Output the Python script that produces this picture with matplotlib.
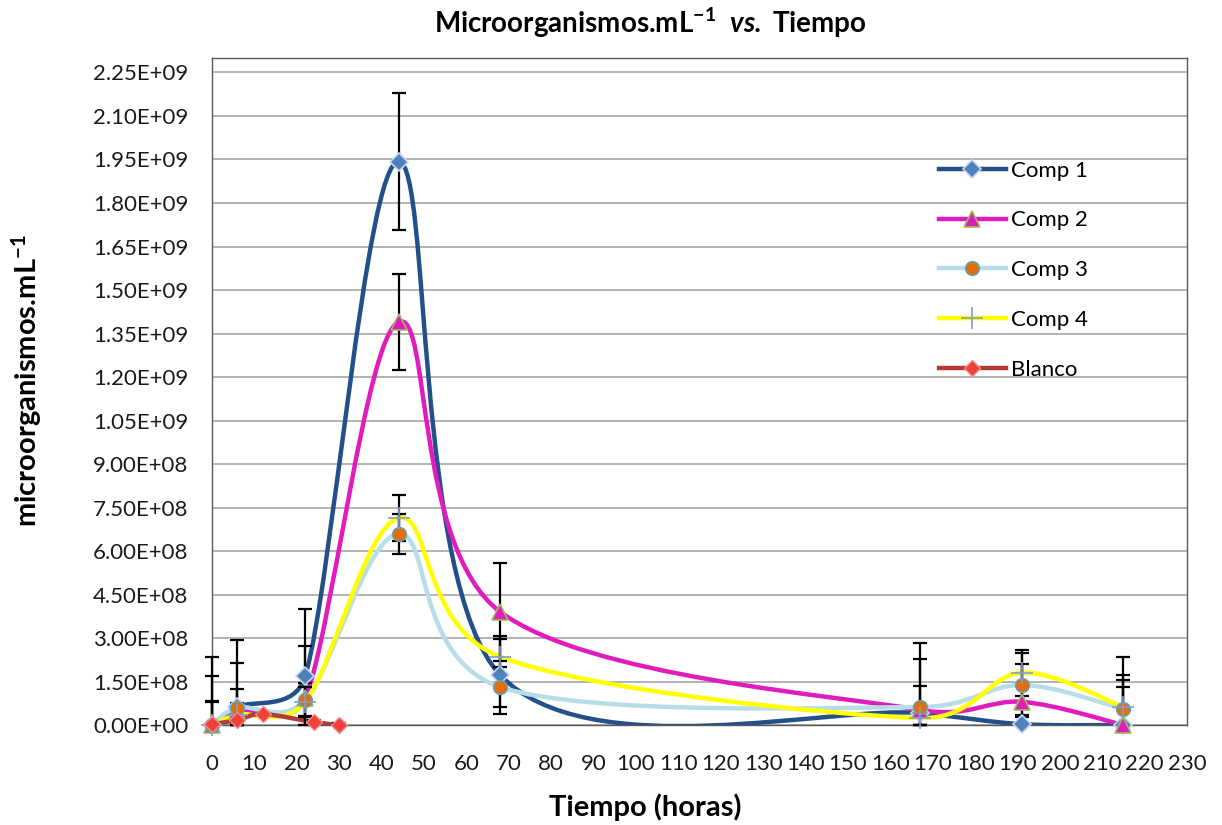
import matplotlib
matplotlib.use('Agg')
import matplotlib.pyplot as plt
import numpy as np
from matplotlib.path import Path
from matplotlib.patches import PathPatch
from matplotlib.lines import Line2D
from matplotlib.ticker import FuncFormatter

plt.rcParams['font.family'] = ['Lato', 'DejaVu Sans']
plt.rcParams['mathtext.fontset'] = 'custom'
plt.rcParams['mathtext.rm'] = 'Lato'
plt.rcParams['mathtext.it'] = 'Lato:italic'
plt.rcParams['mathtext.bf'] = 'Lato:bold'
plt.rcParams['mathtext.bfit'] = 'Lato:bold:italic'

# tiempos de muestreo (horas)
tiempo = [0, 6, 22, 44, 68, 167, 191, 215]
tiempo_blanco = [0, 6, 12, 24, 30]

# microorganismos.mL-1 (x 1e9) y desviaciones
comp1 = [0.0, 0.062, 0.169, 1.943, 0.172, 0.041, 0.003, 0.0]
comp1_err = [0.235, 0.230, 0.230, 0.236, 0.135, 0.094, 0.030, 0.131]
comp2 = [0.0, 0.050, 0.093, 1.390, 0.390, 0.052, 0.080, 0.0]
comp2_err = [0.169, 0.165, 0.180, 0.165, 0.170, 0.176, 0.130, 0.155]
comp3 = [0.0, 0.060, 0.086, 0.659, 0.131, 0.062, 0.138, 0.055]
comp3_err = [0.083, 0.065, 0.060, 0.070, 0.070, 0.220, 0.110, 0.180]
comp4 = [0.0, 0.035, 0.080, 0.714, 0.235, 0.024, 0.180, 0.062]
comp4_err = [0.079, 0.040, 0.050, 0.080, 0.060, 0.040, 0.080, 0.110]
blanco = [0.003, 0.017, 0.038, 0.010, 0.0]
blanco_err = [0.005, 0.008, 0.005, 0.008, 0.008]

series = [
    ('Comp 1', tiempo, comp1, comp1_err,
     dict(color='#24508a', marker='D', mfc='#4f81bd', mec='#c6d6ee', ms=9.5, mew=1.2)),
    ('Comp 2', tiempo, comp2, comp2_err,
     dict(color='#e01cbc', marker='^', mfc='#e01cbc', mec='#9bbb59', ms=12, mew=1.2)),
    ('Comp 3', tiempo, comp3, comp3_err,
     dict(color='#b7dde8', marker='o', mfc='#e46c0a', mec='#4bacc6', ms=10, mew=1.0)),
    ('Comp 4', tiempo, comp4, comp4_err,
     dict(color='#ffff00', marker='+', mfc='#7f9fcf', mec='#7f9fcf', ms=16, mew=1.2)),
    ('Blanco', tiempo_blanco, blanco, blanco_err,
     dict(color='#b03c3a', marker='D', mfc='#f0403c', mec='#f58a86', ms=8, mew=1.0)),
]


def curva_suave(ax, x, y):
    # curva suavizada estilo Excel: Bezier cubicas, control calculado en pixeles
    tr = ax.transData
    p = tr.transform(np.column_stack([x, y]).astype(float))
    n = len(p)
    verts = [p[0]]
    codes = [Path.MOVETO]
    for i in range(n - 1):
        p0 = p[i - 1] if i > 0 else p[i]
        p1, p2 = p[i], p[i + 1]
        p3 = p[i + 2] if i + 2 < n else p[i + 1]
        d12 = np.hypot(*(p2 - p1))
        d02 = np.hypot(*(p2 - p0))
        d13 = np.hypot(*(p3 - p1))
        f1 = 1 / 6 if d02 / 6 < d12 / 2 else d12 / (2 * d02)
        f2 = 1 / 6 if d13 / 6 < d12 / 2 else d12 / (2 * d13)
        verts += [p1 + f1 * (p2 - p0), p2 - f2 * (p3 - p1), p2]
        codes += [Path.CURVE4] * 3
    verts = tr.inverted().transform(np.array(verts))
    return Path(verts, codes)


fig = plt.figure(figsize=(12.22, 8.25), dpi=100)
ax = fig.add_axes([0.1735, 0.1212, 0.7979, 0.8085])
ax.set_xlim(0, 230)
ax.set_ylim(0, 2.30)

handles = []
for nombre, x, y, err, st in series:
    patch = PathPatch(curva_suave(ax, x, y), facecolor='none', edgecolor=st['color'],
                      lw=3.2, zorder=2, capstyle='round', joinstyle='round')
    ax.add_patch(patch)
    # las barras no bajan del eje
    err_bajo = np.minimum(err, y)
    ax.errorbar(x, y, yerr=[err_bajo, err], fmt='none', ecolor='black', elinewidth=1.6,
                capsize=5, capthick=1.6, zorder=3, clip_on=False)
    ax.plot(x, y, ls='none', marker=st['marker'], ms=st['ms'], mfc=st['mfc'],
            mec=st['mec'], mew=st['mew'], zorder=4, clip_on=False)
    handles.append(Line2D([], [], color=st['color'], lw=3.2, marker=st['marker'],
                          ms=st['ms'], mfc=st['mfc'], mec=st['mec'], mew=st['mew'],
                          label=nombre))

ax.set_xticks(np.arange(0, 231, 10))
ax.set_yticks(np.arange(0, 2.26, 0.15))
ax.yaxis.set_major_formatter(FuncFormatter(lambda v, pos: '{:.2E}'.format(v * 1e9)))
ax.tick_params(axis='both', length=0, labelsize=16, colors='#1a1a1a')
ax.tick_params(axis='y', pad=17)
ax.tick_params(axis='x', pad=21)
ax.grid(axis='y', color='#a6a6a6', lw=1.2)
ax.set_axisbelow(True)
for s in ax.spines.values():
    s.set_color('#595959')
    s.set_linewidth(1.0)

ax.legend(handles=handles, loc='upper left', bbox_to_anchor=(0.725, 0.876),
          frameon=False, fontsize=16, labelspacing=1.34, handlelength=3.0,
          handletextpad=0.25)

fig.text(0.532, 0.972, r'Microorganismos.mL$^{\mathbf{-1}}$  $\mathbfit{vs.}$ Tiempo',
         ha='center', va='center', fontsize=20, fontweight='bold')
fig.text(0.528, 0.021, 'Tiempo (horas)', ha='center', va='center',
         fontsize=21, fontweight='bold')
fig.text(0.022, 0.539, r'microorganismos.mL$^{\mathbf{-1}}$', ha='center', va='center',
         rotation=90, fontsize=21, fontweight='bold')

fig.savefig('out.png', dpi=100)
